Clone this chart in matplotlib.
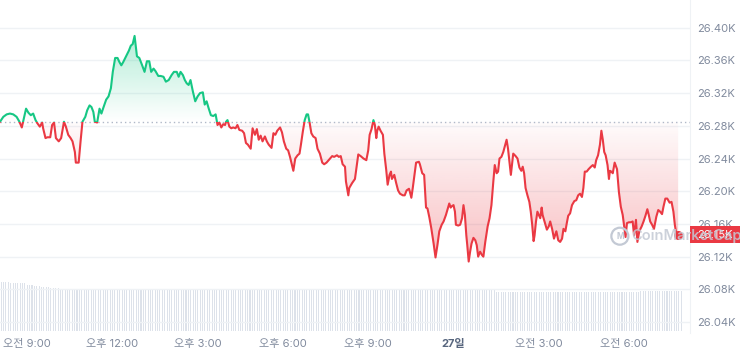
import numpy as np
import matplotlib
matplotlib.use('Agg')
import matplotlib.pyplot as plt
from matplotlib.patches import Rectangle
from matplotlib.path import Path
from matplotlib.colors import to_rgb
from matplotlib.transforms import blended_transform_factory

plt.rcParams['font.family'] = ['Inter', 'Noto Sans CJK KR', 'DejaVu Sans']

# minutes counted from 09:00 on the 26th, price in USD
minutes = [
    -57, -50, -43, -36, -29, -22, -16, -11, -6, -2, 3, 8, 13, 18, 22, 27, 32, 34, 39, 43,
    49, 53, 57, 61, 67, 72, 78, 82, 87, 92, 96, 101, 103, 109, 113, 117, 123, 127, 132, 136,
    140, 143, 148, 153, 157, 161, 167, 172, 177, 181, 186,
    191, 195, 199, 203, 209, 215, 219, 223, 227, 232, 237, 243, 248, 253, 258, 262, 267, 271, 277,
    282, 288, 293, 299, 305, 310, 316, 320, 324, 329, 333, 337, 341, 345, 350, 355, 360, 365, 371,
    375, 379, 383, 388, 393, 398, 402, 406, 410, 414, 418,
    420, 423, 427, 431, 435, 440, 444, 448, 454, 458, 462, 466, 472, 476, 481, 485, 489, 493, 497,
    502, 506, 510, 516, 520, 524, 528, 534, 538, 542, 547, 551, 555, 559, 562, 566, 571, 575, 578,
    582, 586, 590, 593, 596, 600, 604, 609, 613, 618, 623, 627, 632, 638, 644, 648,
    654, 658, 662, 666, 671, 673, 678, 680, 686, 692, 696, 699, 704, 710, 716, 720, 723, 727, 731,
    734, 737, 739, 742, 746, 751, 754, 758, 761, 765, 768, 770, 775, 779, 783, 787, 793, 797, 801,
    806, 808, 811, 814, 818, 821, 827, 829, 834, 838, 842, 845, 849, 853, 858, 862, 866, 870, 875, 879,
    884, 889, 891, 894, 897, 900, 903, 905, 910, 914, 918, 921, 924, 927, 929, 932, 935, 938, 942,
    946, 949, 952, 956, 960, 963, 967, 972, 976, 980, 984, 987, 991, 994, 997, 1001, 1005, 1010,
    1012, 1015, 1018, 1021, 1024, 1026, 1031, 1035, 1039, 1043, 1046, 1049, 1052, 1056, 1060, 1063,
    1066, 1069, 1071, 1074, 1077, 1080, 1083, 1086, 1088, 1093, 1097, 1101, 1104, 1108, 1112,
    1117, 1121, 1125, 1129, 1132, 1136, 1139, 1142, 1146, 1150, 1155, 1159, 1163, 1167, 1171, 1174,
    1177, 1181, 1185, 1190, 1194, 1198, 1201, 1205, 1209, 1212, 1215, 1218, 1221, 1225, 1228, 1230,
    1233, 1236, 1240, 1245, 1249, 1253, 1257, 1260, 1263, 1266, 1270, 1274, 1278, 1281, 1285, 1288,
    1292, 1297, 1301, 1305, 1309, 1312, 1315, 1319, 1323, 1328, 1332, 1336, 1340, 1343, 1347, 1351,
    1356, 1360, 1364, 1367, 1370, 1374,
]
prices = [
    26285, 26291, 26294, 26295, 26294, 26291, 26285, 26278, 26291, 26301, 26296, 26293, 26295, 26287,
    26283, 26279, 26284, 26277, 26265, 26266, 26266, 26281, 26284, 26265, 26261, 26265, 26285, 26279,
    26269, 26265, 26261, 26248, 26235, 26235, 26261, 26285, 26291, 26299, 26305, 26303, 26297, 26285,
    26284, 26301, 26295, 26302, 26312, 26316, 26326, 26346, 26363,
    26363, 26358, 26354, 26358, 26365, 26372, 26378, 26380, 26390, 26365, 26363, 26354, 26346, 26359,
    26359, 26346, 26350, 26347, 26341, 26341, 26340, 26334, 26336, 26342, 26346, 26346, 26340, 26346,
    26342, 26336, 26332, 26330, 26336, 26322, 26310, 26316, 26320, 26321, 26306, 26310, 26302, 26293,
    26292, 26294, 26281, 26284, 26278, 26282, 26281,
    26285, 26287, 26279, 26277, 26278, 26277, 26281, 26275, 26274, 26271, 26259, 26257, 26252, 26277,
    26269, 26276, 26263, 26268, 26261, 26267, 26261, 26257, 26253, 26271, 26269, 26274, 26278, 26272,
    26261, 26252, 26250, 26242, 26232, 26225, 26240, 26244, 26246, 26257, 26273, 26287, 26294, 26294,
    26285, 26271, 26267, 26265, 26252, 26246, 26235, 26233, 26235, 26239, 26243, 26242,
    26244, 26242, 26243, 26233, 26230, 26212, 26195, 26204, 26210, 26215, 26232, 26245, 26243, 26240,
    26238, 26250, 26269, 26276, 26287, 26281, 26265, 26274, 26279, 26274, 26269, 26246, 26226, 26208,
    26220, 26224, 26215, 26220, 26210, 26201, 26197, 26195, 26195, 26201, 26203, 26199, 26192, 26204,
    26222, 26235, 26236, 26233, 26222, 26220, 26180, 26179, 26168, 26155, 26136, 26119, 26134, 26151,
    26159, 26163,
    26171, 26181, 26185, 26180, 26182, 26183, 26175, 26159, 26158, 26159, 26167, 26183, 26171, 26146,
    26134, 26114, 26126, 26136, 26143, 26140, 26134, 26120, 26126, 26122, 26120, 26138, 26157, 26167,
    26183, 26212, 26232, 26222, 26224, 26240, 26242, 26248, 26259, 26263, 26252, 26236, 26220, 26236,
    26246, 26243, 26240, 26229, 26225, 26230, 26222, 26204, 26195, 26187, 26175, 26159, 26139, 26146,
    26163, 26175, 26171, 26167, 26180, 26171, 26161, 26153, 26157, 26163, 26154, 26142,
    26151, 26140, 26138, 26142, 26154, 26151, 26161, 26170, 26173, 26183, 26188, 26189, 26195, 26197,
    26193, 26204, 26224, 26224, 26227, 26230, 26232, 26229, 26238, 26244, 26257, 26274, 26263, 26248,
    26244, 26232, 26215, 26225, 26224, 26222, 26235, 26227, 26199, 26181, 26171, 26157, 26144, 26161,
    26162, 26162, 26163, 26146, 26165, 26138, 26151, 26157, 26163, 26170, 26178, 26171, 26163, 26159,
    26154, 26169, 26177, 26175, 26172, 26181, 26191, 26191, 26186, 26187, 26175, 26159, 26148, 26147,
]
base_price = 26285  # opening price of the 24h window (dotted line)

# volume bars (5-minute buckets), run-length: level repeated count times
vol_levels = [14.8, 14.7, 14.4, 14.0, 13.6, 13.2, 12.9, 12.6, 12.3, 11.8, 12.0]
vol_counts = [4, 4, 3, 3, 3, 4, 4, 135, 49, 61, 18]

x_ticks = [0, 180, 360, 540, 720, 900, 1080, 1260]
x_labels = ['오전 9:00', '오후 12:00', '오후 3:00', '오후 6:00', '오후 9:00', '27일', '오전 3:00', '오전 6:00']
y_ticks = [26040, 26080, 26120, 26160, 26200, 26240, 26280, 26320, 26360, 26400]

GREEN = '#16c784'
RED = '#ea3943'
LABEL = '#808a9d'

t = np.array(minutes, dtype=float)
p = np.array(prices, dtype=float)

fig = plt.figure(figsize=(7.4, 3.54), dpi=100)
rect = [0, 21 / 354, 690 / 740, 333 / 354]
vax = fig.add_axes(rect)
ax = fig.add_axes(rect)
ax.patch.set_alpha(0)

XMIN, XMAX = -57, 1399
YMIN, YMAX = 26026.6, 26433.9

# ── volume ───────────────────────────────────────────────────────────────
vol = np.repeat(vol_levels, vol_counts)
vt = XMIN + 5 * np.arange(len(vol)) + 2.5
vax.bar(vt, vol, width=2.2, color='#dde2ea', linewidth=0)
vax.set_xlim(XMIN, XMAX)
vax.set_ylim(-0.6, 100.3)
vax.axis('off')


# ── gradient fills, clipped to the area between line and base ────────────
def gradient_fill(above, color, amax):
    mask = p >= base_price if above else p <= base_price
    coll = ax.fill_between(t, p, base_price, where=mask, interpolate=True,
                           facecolor='none', edgecolor='none')
    path = Path.make_compound_path(*coll.get_paths())
    rgba = np.zeros((256, 1, 4))
    rgba[..., :3] = to_rgb(color)
    if above:
        rgba[:, 0, 3] = np.linspace(0, amax, 256)
        ext = (t[0], t[-1], base_price, p.max())
    else:
        rgba[:, 0, 3] = np.linspace(amax, 0.02, 256)
        ext = (t[0], t[-1], p.min(), base_price)
    im = ax.imshow(rgba, extent=ext, origin='lower', aspect='auto', zorder=1)
    im.set_clip_path(path, ax.transData)


gradient_fill(True, GREEN, 0.32)
gradient_fill(False, RED, 0.33)

# ── price line, green above base / red below ─────────────────────────────
up_clip = Rectangle((XMIN - 100, base_price), 2000, 1000, transform=ax.transData)
dn_clip = Rectangle((XMIN - 100, base_price - 1000), 2000, 1000, transform=ax.transData)
ln_up, = ax.plot(t, p, color=GREEN, lw=1.5, zorder=3, solid_joinstyle='round')
ln_up.set_clip_path(up_clip)
ln_dn, = ax.plot(t, p, color=RED, lw=1.5, zorder=3, solid_joinstyle='round')
ln_dn.set_clip_path(dn_clip)
ax.plot(t[-1], p[-1], 'o', color=RED, ms=5.5, zorder=4)

ax.axhline(base_price, color='#b0b8c8', lw=1, ls=(0, (1, 2.2)), zorder=2)

# ── axes styling ─────────────────────────────────────────────────────────
ax.set_xlim(XMIN, XMAX)
ax.set_ylim(YMIN, YMAX)
ax.yaxis.tick_right()
ax.set_yticks(y_ticks, [f'{v / 1000:.2f}K' for v in y_ticks])
ax.set_xticks(x_ticks, x_labels)
ax.tick_params(axis='y', length=0, pad=5, labelsize=8, labelcolor=LABEL)
ax.tick_params(axis='x', length=0, pad=4, labelsize=8, labelcolor=LABEL)
for lbl in ax.get_xticklabels():
    if lbl.get_text() == '27일':
        lbl.set_fontweight('bold')
        lbl.set_color('#58667e')
ax.yaxis.grid(True, color='#eff2f5', lw=1)
ax.set_axisbelow(True)
for side in ['top', 'left', 'bottom']:
    ax.spines[side].set_visible(False)
ax.spines['right'].set_color('#eff2f5')

# ── current price tag + watermark ────────────────────────────────────────
btr = blended_transform_factory(ax.transAxes, ax.transData)
tag = Rectangle((1.0, p[-1] - 10.4), 50 / 690, 20.8, transform=btr,
                facecolor=RED, edgecolor='none', clip_on=False, zorder=5)
ax.add_patch(tag)
ax.text(1.0 + 7 / 690, p[-1], f'{p[-1] / 1000:.2f}K', transform=btr, ha='left', va='center',
        color='white', fontsize=8, clip_on=False, zorder=6)

ax.scatter([1251], [26145], s=150, facecolors='none', edgecolors='#c3c9d4', linewidths=1.6,
           zorder=6, clip_on=False)
ax.text(1251, 26145, 'M', ha='center', va='center', color='#c3c9d4', fontsize=6,
        fontweight='bold', zorder=6)
ax.text(1275, 26145, 'CoinMarketCap', ha='left', va='center', color='#c3c9d4', alpha=0.85,
        fontsize=10.5, fontweight='semibold', zorder=6, clip_on=False)

fig.savefig('out.png', dpi=100)
